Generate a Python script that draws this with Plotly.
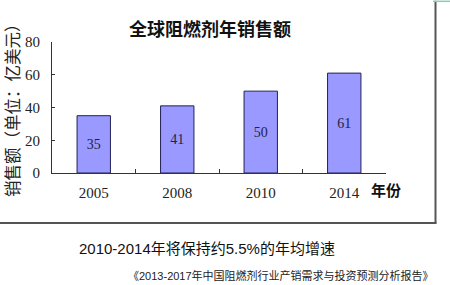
import plotly.graph_objects as go

years = ["2005", "2008", "2010", "2014"]
sales = [35, 41, 50, 61]
y_ticks = [0, 20, 40, 60, 80]

W, H = 450, 285
L, R = 52, 386          # plot area left/right px
T, B = 41.5, 173.5      # plot area top/bottom px

def px(x):
    return (x - L) / (R - L)

def py(y):
    return (B - y) / (B - T)

serif = "Liberation Serif, Times New Roman, Noto Sans CJK SC, serif"
cjk = "Noto Sans CJK SC, sans-serif"

fig = go.Figure(go.Bar(
    x=years, y=sales, width=0.4,
    marker=dict(color="#9999FF", line=dict(color="#222255", width=1)),
    text=[str(v) for v in sales], textposition="inside", insidetextanchor="middle",
    textfont=dict(family=serif, size=14, color="#222244"),
))

fig.update_layout(
    width=W, height=H,
    margin=dict(l=L, r=W - R, t=T, b=H - B, pad=0),
    plot_bgcolor="white", paper_bgcolor="white",
    showlegend=False,
    xaxis=dict(type="category", showgrid=False, showline=True, linecolor="#333",
               linewidth=1, ticks="inside", ticklen=4, tickcolor="#333",
               tickson="boundaries", tickfont=dict(family=serif, size=15, color="#222"),
               ticklabelstandoff=6),
    yaxis=dict(range=[0, 80], tickvals=y_ticks, showgrid=False, showline=True,
               linecolor="#333", linewidth=1, ticks="inside", ticklen=3,
               tickcolor="#333", zeroline=False,
               tickfont=dict(family=serif, size=15, color="#222"),
               ticklabelstandoff=8),
    annotations=[
        dict(text="<b>全球阻燃剂年销售额</b>", x=px(210), y=py(27), xref="paper", yref="paper",
             showarrow=False, font=dict(family=cjk, size=18, color="#111"),
             xanchor="center", yanchor="middle"),
        dict(text="销售额（单位：亿美元）", x=px(12), y=py(106), xref="paper", yref="paper",
             showarrow=False, textangle=-90, font=dict(family=cjk, size=16.5, color="#222"),
             xanchor="center", yanchor="middle"),
        dict(text="<b>年份</b>", x=px(386), y=py(190), xref="paper", yref="paper",
             showarrow=False, font=dict(family=cjk, size=15, color="#111"),
             xanchor="center", yanchor="middle"),
        dict(text="2010-2014年将保持约5.5%的年均增速", x=px(207), y=py(250),
             xref="paper", yref="paper", showarrow=False,
             font=dict(family="Liberation Sans, Arial, Noto Sans CJK SC, sans-serif",
                       size=15, color="#111"),
             xanchor="center", yanchor="middle"),
        dict(text="《2013-2017年中国阻燃剂行业产销需求与投资预测分析报告》", x=px(436),
             y=py(277), xref="paper", yref="paper", showarrow=False,
             font=dict(family="Liberation Sans, Arial, Noto Sans CJK SC, sans-serif",
                       size=11, color="#222"),
             xanchor="right", yanchor="middle"),
    ],
    shapes=[
        dict(type="line", xref="paper", yref="paper", x0=px(435.5), x1=px(435.5),
             y0=py(0), y1=py(224), line=dict(color="#555", width=2)),
        dict(type="line", xref="paper", yref="paper", x0=px(0), x1=px(436.5),
             y0=py(224), y1=py(224), line=dict(color="#555", width=2)),
        dict(type="line", xref="paper", yref="paper", x0=px(433), x1=px(450),
             y0=py(0.5), y1=py(0.5), line=dict(color="#88ccbb", width=1.5)),
    ],
)

fig.write_html("out.html")
